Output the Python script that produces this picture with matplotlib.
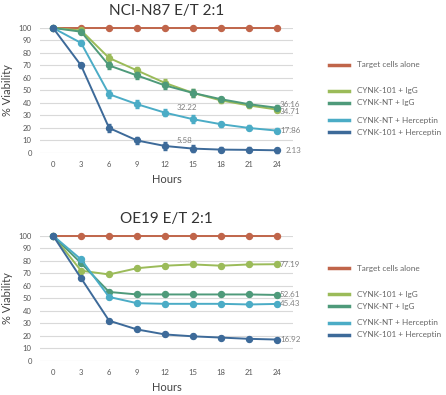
import matplotlib.pyplot as plt
from matplotlib.lines import Line2D

plt.rcParams['font.family'] = ['Lato', 'DejaVu Sans']

hours = [0, 3, 6, 9, 12, 15, 18, 21, 24]
labels = ['Target cells alone', 'CYNK-101 + IgG', 'CYNK-NT + IgG',
          'CYNK-NT + Herceptin', 'CYNK-101 + Herceptin']
colors = ['#c0654a', '#9bbb59', '#4e9a7a', '#4bacc6', '#3d6a99']

# NCI-N87
n87_target = [100, 100, 100, 100, 100, 100, 100, 100, 100]
n87_101_igg = [100, 98, 76, 66, 56, 48, 42, 38, 34.71]
n87_nt_igg = [100, 97, 70, 62, 54, 48, 43, 39, 36.16]
n87_nt_her = [100, 88, 47, 39, 32.22, 27, 23, 20, 17.86]
n87_101_her = [100, 70, 20, 10, 5.58, 3.5, 2.7, 2.5, 2.13]
n87_err = [0, 2, 3, 3, 3, 3, 2, 2, 2]

# OE19
oe19_target = [100, 100, 100, 100, 100, 100, 100, 100, 100]
oe19_101_igg = [100, 72, 69, 74, 76, 77, 76, 77, 77.19]
oe19_nt_igg = [100, 78, 55, 53, 53, 53, 53, 53, 52.61]
oe19_nt_her = [100, 81, 51, 46, 45.5, 45.5, 45.5, 45, 45.43]
oe19_101_her = [100, 66, 32, 25, 21, 19.5, 18.5, 17.5, 16.92]
oe19_err = [0, 1.5, 1.5, 1.5, 1.5, 1.5, 1.5, 1.5, 1.5]

# (series, point, text, dx, dy) offsets in points
n87_labels = [(3, 4, '32.22', 8, 4), (4, 4, '5.58', 8, 4), (2, 8, '36.16', 2, 2.5),
              (1, 8, '34.71', 2, -1.5), (3, 8, '17.86', 2, 0), (4, 8, '2.13', 6, 0)]
oe19_labels = [(1, 8, '77.19', 2, 0), (2, 8, '52.61', 2, 0), (3, 8, '45.43', 2, 0),
               (4, 8, '16.92', 2, 0)]

grey = '#808080'


def draw(ax, series, err, title, notes):
    for i, ys in enumerate(series):
        e = None if i == 0 else err
        ax.errorbar(hours, ys, yerr=e, color=colors[i], lw=1.4, marker='o',
                    ms=4.3, capsize=1.5, elinewidth=0.6, zorder=3 + i)
    for si, idx, txt, dx, dy in notes:
        ax.annotate(txt, (hours[idx], series[si][idx]), xytext=(dx, dy),
                    textcoords='offset points', fontsize=5.8, color=grey,
                    va='center', ha='left', zorder=10)
    ax.set_xlim(-1.4, 25.7)
    ax.set_ylim(0, 100)
    ax.set_xticks(hours)
    ax.set_yticks(range(0, 101, 10))
    ax.tick_params(length=0, labelsize=5.5, labelcolor='#555555', pad=6)
    ax.grid(axis='y', color='#d9d9d9', lw=0.8)
    ax.set_axisbelow(True)
    for s in ax.spines.values():
        s.set_visible(False)
    ax.set_title(title, fontsize=11, color='#333333', pad=9)
    ax.set_xlabel('Hours', fontsize=8, color='#444444')
    ax.set_ylabel('% Viability', fontsize=8, color='#444444', labelpad=4)
    for line in ax.lines:
        line.set_clip_on(False)


def legend(fig, top):
    offs = [0, 26, 38, 55, 67]
    for i, o in enumerate(offs):
        y = 1 - (top + o) / 395
        fig.add_artist(Line2D([329 / 446, 349 / 446], [y, y], color=colors[i], lw=2.5))
        fig.text(357 / 446, y, labels[i], fontsize=5.9, color='#666666', va='center')


fig = plt.figure(figsize=(4.46, 3.95), dpi=100)
ax1 = fig.add_axes([40 / 446, 0.6127, 253 / 446, 0.3165])
ax2 = fig.add_axes([40 / 446, 0.0868, 253 / 446, 0.3165])

n87 = [n87_target, n87_101_igg, n87_nt_igg, n87_nt_her, n87_101_her]
oe19 = [oe19_target, oe19_101_igg, oe19_nt_igg, oe19_nt_her, oe19_101_her]
draw(ax1, n87, n87_err, 'NCI-N87 E/T 2:1', n87_labels)
draw(ax2, oe19, oe19_err, 'OE19 E/T 2:1', oe19_labels)

legend(fig, 65)
legend(fig, 268)

fig.savefig('out.png', dpi=100)
